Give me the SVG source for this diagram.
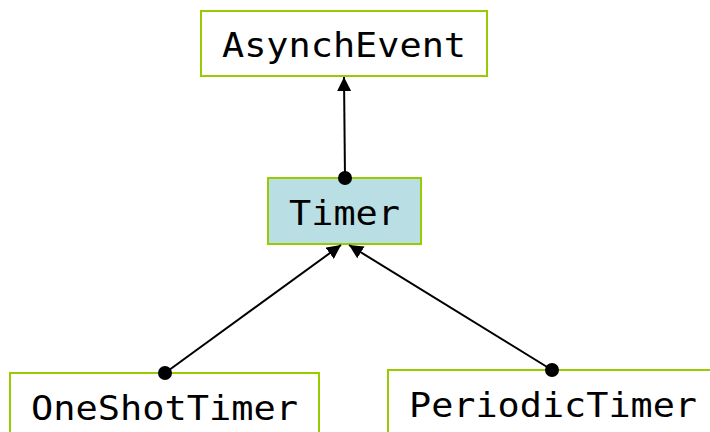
<svg xmlns="http://www.w3.org/2000/svg" width="710" height="432" viewBox="0 0 710 432">
  <style>
    .box { fill: #ffffff; stroke: #99cc00; stroke-width: 2; }
    .box.hl { fill: #b9dfe4; }
    .lbl { font-family: "DejaVu Sans Mono", "Liberation Mono", monospace; font-size: 34px; fill: #000; }
    .edge { stroke: #000; stroke-width: 2; fill: none; marker-end: url(#tri); }
    .dot { fill: #000; }
  </style>
  <defs>
    <marker id="tri" viewBox="0 0 10 10" refX="10" refY="5" markerWidth="7" markerHeight="7" markerUnits="strokeWidth" orient="auto">
      <path d="M0,0 L10,5 L0,10 z" fill="#000"/>
    </marker>
  </defs>

  <g id="node-asynchevent">
    <rect class="box" x="201" y="11" width="286" height="65"/>
    <text class="lbl" x="222" y="57" textLength="244" lengthAdjust="spacingAndGlyphs">AsynchEvent</text>
  </g>
  <g id="node-timer">
    <rect class="box hl" x="268" y="178" width="153" height="66"/>
    <text class="lbl" x="289" y="225" textLength="111" lengthAdjust="spacingAndGlyphs">Timer</text>
  </g>
  <g id="node-oneshottimer">
    <rect class="box" x="10" y="373" width="309" height="70"/>
    <text class="lbl" x="31" y="420" textLength="267" lengthAdjust="spacingAndGlyphs">OneShotTimer</text>
  </g>
  <g id="node-periodictimer">
    <rect class="box" x="388" y="370" width="340" height="70"/>
    <text class="lbl" x="409" y="417" textLength="288" lengthAdjust="spacingAndGlyphs">PeriodicTimer</text>
  </g>

  <g id="connectors">
    <line class="edge" x1="345" y1="178" x2="344" y2="77"/>
    <circle class="dot" cx="345" cy="178" r="7"/>
    <line class="edge" x1="165" y1="373" x2="341" y2="245"/>
    <circle class="dot" cx="165" cy="373" r="7"/>
    <line class="edge" x1="552" y1="370" x2="349" y2="245"/>
    <circle class="dot" cx="552" cy="370" r="7"/>
  </g>
</svg>
